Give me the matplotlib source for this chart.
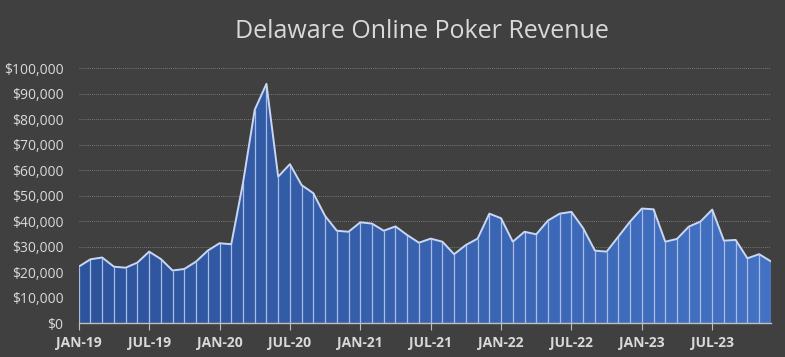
import numpy as np
import matplotlib.pyplot as plt
from matplotlib.colors import LinearSegmentedColormap
from matplotlib.ticker import FuncFormatter

# monthly revenue, Jan 2019 - Dec 2023
months = ["JAN-19", "JUL-19", "JAN-20", "JUL-20", "JAN-21", "JUL-21",
          "JAN-22", "JUL-22", "JAN-23", "JUL-23"]
rev_2019 = [22200, 25100, 25800, 22200, 21800, 23800, 28100, 25200, 20700, 21300, 24200, 28500]
rev_2020 = [31400, 31000, 55000, 83700, 93900, 57500, 62400, 54200, 51000, 42100, 36300, 35900]
rev_2021 = [39600, 39100, 36300, 38000, 34600, 31600, 33200, 32000, 27100, 30700, 33200, 43000]
rev_2022 = [41200, 32000, 35900, 34900, 40300, 43000, 43700, 37300, 28500, 28100, 34000, 39900]
rev_2023 = [45000, 44700, 32000, 33100, 37900, 39900, 44600, 32400, 32700, 25500, 27100, 24300]

revenue = np.array(rev_2019 + rev_2020 + rev_2021 + rev_2022 + rev_2023)
x = np.arange(len(revenue))

bg = "#404040"
txt = "#d9d9d9"

fig = plt.figure(figsize=(7.85, 3.57), dpi=100, facecolor=bg)
ax = fig.add_axes([0.1003, 0.0944, 0.8817, 0.7143], facecolor=bg)

# area with left-to-right gradient
poly = ax.fill_between(x, revenue, 0, color="none", lw=0)
cmap = LinearSegmentedColormap.from_list("blu", ["#2d539b", "#4472c4"])
grad = np.linspace(0, 1, 256).reshape(1, -1)
img = ax.imshow(grad, cmap=cmap, aspect="auto", extent=[0, len(x) - 1, 0, 100000],
                origin="lower", zorder=2)
img.set_clip_path(poly.get_paths()[0], transform=ax.transData)

# thin lines at each month
ax.vlines(x, 0, revenue, color="#a8bde6", lw=0.9, zorder=3)
ax.plot(x, revenue, color="#c9d7f2", lw=1.4, zorder=4)

ax.set_xlim(0, len(x) - 1)
ax.set_ylim(0, 100000)
ax.set_yticks(np.arange(0, 100001, 10000))
ax.yaxis.set_major_formatter(FuncFormatter(lambda v, p: "${:,.0f}".format(v)))
for yv in range(10000, 100001, 10000):
    ax.axhline(yv, color="#8a8a8a", lw=0.6, ls=(0, (1, 1.5)), zorder=1)

ax.set_xticks(np.arange(0, len(x), 6))
ax.set_xticklabels(months, fontweight="bold")

for s in ["top", "right", "left"]:
    ax.spines[s].set_visible(False)
ax.spines["bottom"].set_color("#bfbfbf")
ax.spines["bottom"].set_linewidth(1)
ax.spines["bottom"].set_zorder(5)

ax.tick_params(axis="y", length=0, colors=txt, labelsize=10, pad=11)
ax.tick_params(axis="x", length=5, color="#bfbfbf", colors=txt, labelsize=10, pad=4)
for lab in ax.get_yticklabels() + ax.get_xticklabels():
    lab.set_family("Open Sans")

fig.text(0.538, 0.912, "Delaware Online Poker Revenue", color=txt, fontsize=18,
         ha="center", va="center", family="Open Sans")

fig.savefig("out.png", dpi=100, facecolor=bg)
